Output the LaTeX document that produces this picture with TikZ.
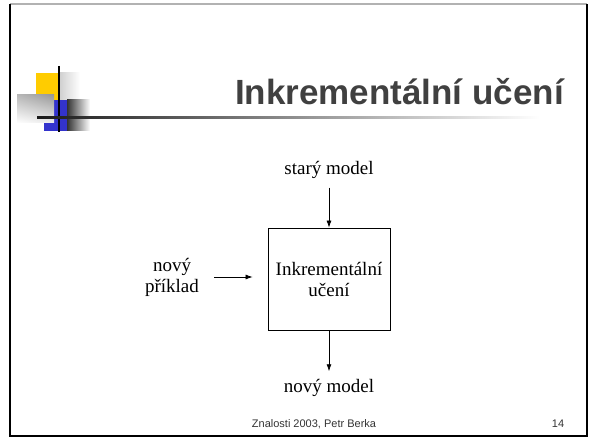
\documentclass[tikz,border=0pt]{standalone}
\usepackage{fontspec}
\setmainfont{Liberation Serif}
\newfontfamily\slidesans{Liberation Sans}
\usetikzlibrary{arrows.meta,shadings}
\definecolor{titlegray}{RGB}{64,64,64}
\definecolor{decoyellow}{RGB}{255,204,0}
\definecolor{decoblue}{RGB}{51,51,204}

\begin{document}
\begin{tikzpicture}[x=1pt,y=-1pt,
  flowtext/.style={font=\fontsize{19}{21}\selectfont, align=center},
  learnbox/.style={draw, line width=0.8pt, minimum width=122pt, minimum height=102pt, flowtext},
  flowarrow/.style={-{Latex[length=7pt,width=5pt]}, line width=0.7pt}]
\useasboundingbox (0,0) rectangle (590,438);

% Slide frame
\draw[gray!60, line width=1.2pt] (10,4) -- (587,4);
\draw[line width=2.5pt] (10,4) -- (10,436) -- (587,436) -- (587,4);

% Corner decoration
\shade[left color=gray!40, right color=white] (58,73) rectangle (80,100);
\fill[decoyellow] (36,73) rectangle (58,100);
\shade[left color=black!80, right color=white] (67,100) rectangle (90,131);
\fill[decoblue] (44,100) rectangle (67,131);
\shade[upper right=gray!80, upper left=gray!55, lower left=white, lower right=gray!15] (17,95) rectangle (54,123);
\draw[line width=2pt] (59,66) -- (59,132);
\shade[left color=black!90, right color=white] (37,116.5) rectangle (540,119);

% Title
\node[anchor=base east, font=\slidesans\bfseries\fontsize{35}{40}\selectfont, text=titlegray, inner sep=0pt] (title) at (564,105) {Inkrementální učení};

% Diagram
\node[learnbox] (learner) at (329,279) {Inkrementální\\učení};
\node[flowtext, anchor=base] (oldmodel) at (329,175) {starý model};
\node[flowtext] (example) at (172,277) {nový\\příklad};
\node[flowtext, anchor=base] (newmodel) at (329,393) {nový model};

\draw[flowarrow, shorten <=5pt] (oldmodel) -- (learner);
\draw[flowarrow, shorten <=12pt, shorten >=15pt] (example.east) -- (example.east -| learner.west);
\draw[flowarrow, shorten >=5pt] (learner) -- (newmodel);

% Footer
\node[font=\slidesans\fontsize{11}{13}\selectfont, text=black!80, anchor=base] (footer) at (314,428) {Znalosti 2003, Petr Berka};
\node[font=\slidesans\fontsize{11}{13}\selectfont, text=black!80, anchor=base] (pageno) at (558,428) {14};

\end{tikzpicture}
\end{document}
